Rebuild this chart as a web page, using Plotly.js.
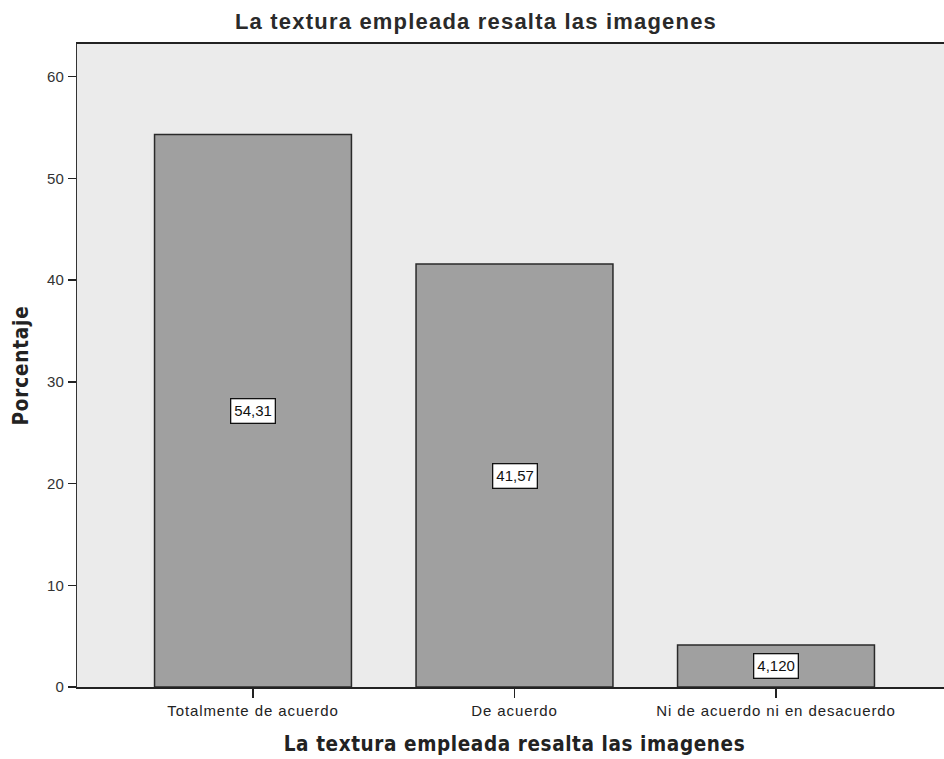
<!DOCTYPE html>
<html>
<head>
<meta charset="utf-8">
<script src="https://cdn.plot.ly/plotly-3.0.1.min.js"></script>
<style>
html,body{margin:0;padding:0;overflow:hidden;background:#fff;}
#chart{width:952px;height:759px;}
#chart .gtitle{letter-spacing:1.2px;}
#chart .xtick text{letter-spacing:0.9px;}
#chart .g-xtitle text{letter-spacing:0.6px;}
#chart .g-ytitle text{letter-spacing:0.8px;}
</style>
</head>
<body>
<div id="chart"></div>
<script>
const categories = ["Totalmente de acuerdo", "De acuerdo", "Ni de acuerdo ni en desacuerdo"];
const percentages = [54.31, 41.57, 4.12];
const valueLabels = ["54,31", "41,57", "4,120"];
const yTicks = [0, 10, 20, 30, 40, 50, 60];

const trace = {
  type: "bar",
  x: categories,
  y: percentages,
  width: 0.753,
  marker: {color: "#a0a0a0", line: {color: "#2a2a2a", width: 1.5}},
  hoverinfo: "none"
};

const annotations = categories.map((c, i) => ({
  x: c, y: percentages[i] / 2, xref: "x", yref: "y",
  text: valueLabels[i], showarrow: false,
  bgcolor: "#ffffff", bordercolor: "#111111", borderwidth: 1.3, borderpad: 3,
  font: {family: "Liberation Sans, Arial, sans-serif", size: 15, color: "#111"}
}));

const layout = {
  width: 952, height: 759,
  margin: {l: 77, r: 0, t: 44, b: 72},
  paper_bgcolor: "#ffffff",
  plot_bgcolor: "#ebebeb",
  showlegend: false,
  title: {
    text: "<b>La textura empleada resalta las imagenes</b>",
    x: 0.5, xref: "container", xanchor: "center",
    y: 0.982, yref: "container", yanchor: "top",
    font: {family: "Liberation Sans, Arial, sans-serif", size: 22, color: "#2a2a2a"}
  },
  xaxis: {
    type: "category",
    range: [-0.673, 2.673],
    showline: true, linecolor: "#222", linewidth: 1.8, mirror: true,
    ticks: "outside", ticklen: 9, tickcolor: "#222", tickwidth: 1.2,
    showgrid: false, zeroline: false,
    tickfont: {family: "Liberation Sans, Arial, sans-serif", size: 15, color: "#222"},
    title: {
      text: "<b>La textura empleada resalta las imagenes</b>",
      standoff: 19,
      font: {family: "DejaVu Sans Condensed, DejaVu Sans, sans-serif", size: 20.5, color: "#222"}
    }
  },
  yaxis: {
    range: [0, 63.2],
    tickvals: yTicks,
    ticktext: yTicks.map(String),
    showline: true, linecolor: "#333", linewidth: 1.2,
    ticks: "outside", ticklen: 8, tickcolor: "#222", tickwidth: 1.5,
    ticklabelstandoff: 1,
    showgrid: false, zeroline: false,
    tickfont: {family: "Liberation Sans, Arial, sans-serif", size: 15, color: "#333"},
    title: {
      text: "<b>Porcentaje</b>",
      standoff: 13,
      font: {family: "DejaVu Sans Condensed, DejaVu Sans, sans-serif", size: 20.5, color: "#222"}
    }
  },
  annotations: annotations
};

Plotly.newPlot("chart", [trace], layout, {displayModeBar: false, staticPlot: true});
</script>
</body>
</html>
